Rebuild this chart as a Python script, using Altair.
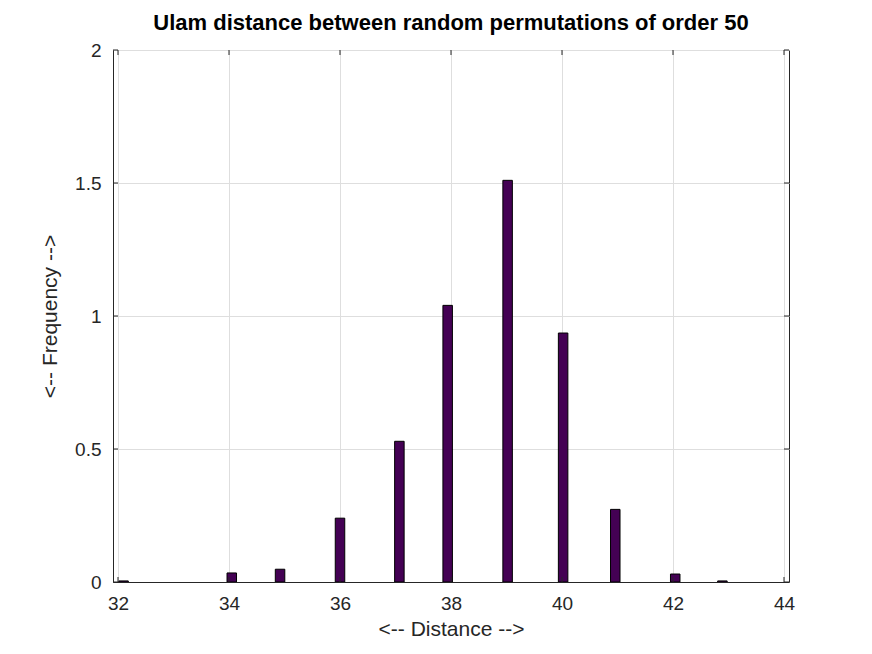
import altair as alt
import pandas as pd

# Histogram bar centres and heights
distance = [32.1, 34.05, 34.92, 36.0, 37.07, 37.94, 39.02, 40.02, 40.96, 42.04, 42.89]
frequency = [0.004, 0.034, 0.048, 0.24, 0.529, 1.04, 1.51, 0.936, 0.273, 0.030, 0.004]
x_ticks = [32, 34, 36, 38, 40, 42, 44]
y_ticks = [0, 0.5, 1, 1.5, 2]

W, H = 676, 532
AX = "#262626"
FONT = "Liberation Sans"

df = pd.DataFrame({"distance": distance, "frequency": frequency})
xt = pd.DataFrame({"distance": x_ticks})
yt = pd.DataFrame({"frequency": y_ticks})

xs = alt.Scale(domain=[32, 44], nice=False, zero=False)
ys = alt.Scale(domain=[0, 2], nice=False)

x_axis = alt.Axis(values=x_ticks, title="<-- Distance -->", labelPadding=12, titlePadding=5,
                  format="~g")
y_axis = alt.Axis(values=y_ticks, title="<-- Frequency -->", labelPadding=12, titlePadding=14,
                  format="~g")

bars = alt.Chart(df).mark_bar(
    size=9.5, color="#440154", stroke="black", strokeWidth=1, clip=True
).encode(
    x=alt.X("distance:Q", scale=xs, axis=x_axis),
    y=alt.Y("frequency:Q", scale=ys, axis=y_axis),
)

tick_len = 5
xb = alt.Chart(xt).mark_rule(color=AX, strokeWidth=1).encode(
    x=alt.X("distance:Q", scale=xs, axis=x_axis), y=alt.value(H), y2=alt.value(H - tick_len))
xtp = alt.Chart(xt).mark_rule(color=AX, strokeWidth=1).encode(
    x=alt.X("distance:Q", scale=xs, axis=x_axis), y=alt.value(0), y2=alt.value(tick_len))
yl = alt.Chart(yt).mark_rule(color=AX, strokeWidth=1).encode(
    y=alt.Y("frequency:Q", scale=ys, axis=y_axis), x=alt.value(0), x2=alt.value(tick_len))
yr = alt.Chart(yt).mark_rule(color=AX, strokeWidth=1).encode(
    y=alt.Y("frequency:Q", scale=ys, axis=y_axis), x=alt.value(W), x2=alt.value(W - tick_len))

chart = alt.layer(bars, xb, xtp, yl, yr).properties(
    width=W, height=H,
    background="white",
    title=alt.TitleParams("Ulam distance between random permutations of order 50",
                          font=FONT, fontSize=22, fontWeight="bold", color="black",
                          anchor="middle", offset=6),
    autosize=alt.AutoSizeParams(type="none"),
    padding={"left": 105, "top": 42, "right": 60, "bottom": 62},
).configure_view(
    stroke=AX, strokeWidth=1
).configure_axis(
    labelFont=FONT, labelFontSize=19, labelColor=AX,
    titleFont=FONT, titleFontSize=21, titleFontWeight="normal", titleColor=AX,
    ticks=False, domain=True, domainColor=AX, domainWidth=1,
    grid=True, gridColor="#dedede", gridWidth=1,
)

chart.save("out.html", embed_options={"renderer": "svg", "actions": False})
